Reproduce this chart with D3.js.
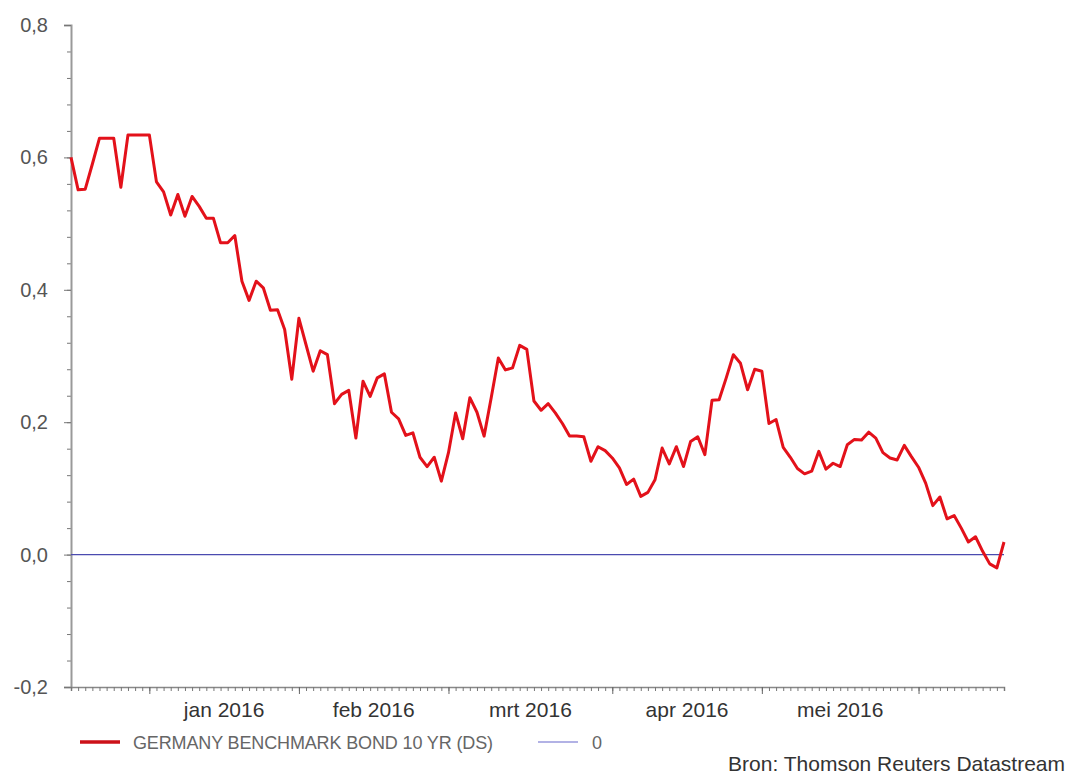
<!DOCTYPE html>
<html>
<head>
<meta charset="utf-8">
<script src="https://cdn.jsdelivr.net/npm/d3@7"></script>
<style>
  html, body { margin: 0; padding: 0; background: #fff; }
  svg { display: block; font-family: "Liberation Sans", Arial, sans-serif; }
</style>
</head>
<body>
<div id="js-chart"></div>
<script>
// Data -------------------------------------
// trading days (weekdays) from 17 dec 2015 to 17 jun 2016
var startDate = '2015-12-17';
var endDate = '2016-06-18';

// 10 yr Bund yield in %, one value per weekday
var bundYield = [
  0.600, 0.551, 0.552, 0.590, 0.629, 0.629, 0.629, 0.555, 0.634, 0.634,
  0.634, 0.634, 0.563, 0.548, 0.513, 0.544, 0.511, 0.541, 0.526, 0.508,
  0.508, 0.471, 0.471, 0.482, 0.413, 0.384, 0.413, 0.403, 0.369, 0.370,
  0.340, 0.265, 0.357, 0.317, 0.277, 0.308, 0.302, 0.228, 0.242, 0.248,
  0.176, 0.262, 0.239, 0.267, 0.273, 0.215, 0.205, 0.180, 0.184, 0.147,
  0.133, 0.147, 0.111, 0.154, 0.214, 0.175, 0.237, 0.215, 0.179, 0.237,
  0.297, 0.279, 0.282, 0.316, 0.310, 0.232, 0.218, 0.228, 0.214, 0.198,
  0.179, 0.179, 0.178, 0.141, 0.163, 0.157, 0.146, 0.131, 0.106, 0.114,
  0.088, 0.094, 0.113, 0.161, 0.137, 0.163, 0.133, 0.171, 0.178, 0.151,
  0.233, 0.234, 0.267, 0.302, 0.289, 0.249, 0.280, 0.277, 0.198, 0.204,
  0.162, 0.147, 0.130, 0.122, 0.126, 0.156, 0.129, 0.138, 0.133, 0.166,
  0.174, 0.173, 0.185, 0.176, 0.154, 0.146, 0.143, 0.165, 0.148, 0.132,
  0.108, 0.074, 0.087, 0.054, 0.059, 0.040, 0.019, 0.027, 0.005, -0.014,
  -0.020, 0.019
];
var zeroLine = [0, 0];

var monthLabels = ['jan 2016', 'feb 2016', 'mrt 2016', 'apr 2016', 'mei 2016'];
var yTicks = [-0.2, 0, 0.2, 0.4, 0.6, 0.8];
var yMinorStep = 0.04;

var legendNames = ['GERMANY BENCHMARK BOND 10 YR (DS)', '0'];
var sourceText = 'Bron: Thomson Reuters Datastream';

// Chart settings -------------------------------------
var chartWidth = 1069;
var chartHeight = 780;
var plotLeft = 71, plotRight = 1004, plotTop = 25, plotBottom = 687;

var days = d3.timeDay.range(new Date(startDate + 'T00:00:00'), new Date(endDate + 'T00:00:00'))
  .filter(function(d) { return d.getDay() !== 0 && d.getDay() !== 6; });

var data = days.map(function(d, i) {
  return { date: d, i: i, value: bundYield[i] };
});

// index of first trading day of each month
var monthStarts = [];
days.forEach(function(d, i) {
  if (i > 0 && d.getMonth() !== days[i - 1].getMonth()) monthStarts.push(i);
});

var x = d3.scaleLinear().domain([0, days.length - 1]).range([plotLeft, plotRight]);
var y = d3.scaleLinear().domain([-0.2, 0.8]).range([plotBottom, plotTop]);

var nl = d3.formatLocale({ decimal: ',', thousands: '.', grouping: [3], currency: ['€', ''], minus: '-' });
var fmt = nl.format('.1f');

var svg = d3.select('#js-chart')
  .append('svg')
  .attr('width', chartWidth)
  .attr('height', chartHeight);

// Y axis -------------------------------------
var yMinor = d3.range(-0.2, 0.8001, yMinorStep);
svg.append('g')
  .attr('transform', 'translate(' + plotLeft + ',0)')
  .call(d3.axisLeft(y).tickValues(yMinor).tickSize(4).tickFormat(''))
  .call(function(g) {
    g.select('.domain').remove();
    g.selectAll('line').attr('stroke', '#777');
  });

svg.append('g')
  .attr('transform', 'translate(' + plotLeft + ',0)')
  .call(d3.axisLeft(y).tickValues(yTicks).tickSize(7).tickPadding(16).tickFormat(fmt))
  .call(function(g) {
    g.select('.domain').attr('stroke', '#999').attr('stroke-width', 2);
    g.selectAll('line').attr('stroke', '#777');
    g.selectAll('text')
      .attr('fill', '#555')
      .style('font-size', '20px');
  });

// X axis -------------------------------------
svg.append('g')
  .attr('transform', 'translate(0,' + plotBottom + ')')
  .call(d3.axisBottom(x).tickValues(d3.range(days.length)).tickSize(4).tickFormat(''))
  .call(function(g) {
    g.select('.domain').attr('stroke', '#888').attr('stroke-width', 1.5);
    g.selectAll('line').attr('stroke', '#777');
  });

svg.append('g')
  .attr('transform', 'translate(0,' + plotBottom + ')')
  .call(d3.axisBottom(x).tickValues(monthStarts).tickSize(7).tickFormat(''))
  .call(function(g) {
    g.select('.domain').remove();
    g.selectAll('line').attr('stroke', '#666');
  });

// month labels centered between month starts
svg.append('g')
  .selectAll('text')
  .data(monthLabels)
  .enter()
  .append('text')
  .attr('x', function(d, i) { return x((monthStarts[i] + monthStarts[i + 1]) / 2); })
  .attr('y', 717)
  .attr('text-anchor', 'middle')
  .attr('fill', '#333')
  .style('font-size', '21px')
  .text(function(d) { return d; });

// Zero line -------------------------------------
svg.append('line')
  .attr('x1', x(0))
  .attr('x2', x(days.length - 1))
  .attr('y1', y(zeroLine[0]))
  .attr('y2', y(zeroLine[1]))
  .attr('stroke', '#4b4bb0')
  .attr('stroke-width', 1.2);

// Yield line -------------------------------------
var line = d3.line()
  .x(function(d) { return x(d.i); })
  .y(function(d) { return y(d.value); });

svg.append('path')
  .datum(data)
  .attr('d', line)
  .attr('fill', 'none')
  .attr('stroke', '#e3111a')
  .attr('stroke-width', 3)
  .attr('stroke-linejoin', 'round');

// Legend -------------------------------------
var legend = svg.append('g').style('font-size', '18px');
legend.append('line')
  .attr('x1', 80).attr('x2', 120).attr('y1', 742).attr('y2', 742)
  .attr('stroke', '#cc1118').attr('stroke-width', 3.5);
legend.append('text')
  .attr('x', 133).attr('y', 748.5)
  .attr('fill', '#666')
  .attr('textLength', 360)
  .text(legendNames[0]);
legend.append('line')
  .attr('x1', 538).attr('x2', 578).attr('y1', 742).attr('y2', 742)
  .attr('stroke', '#6666cc').attr('stroke-width', 1.2);
legend.append('text')
  .attr('x', 592).attr('y', 748.5)
  .attr('fill', '#666')
  .text(legendNames[1]);

// Source -------------------------------------
svg.append('text')
  .attr('x', 1065)
  .attr('y', 771)
  .attr('text-anchor', 'end')
  .attr('fill', '#333')
  .style('font-size', '21px')
  .text(sourceText);
</script>
</body>
</html>
